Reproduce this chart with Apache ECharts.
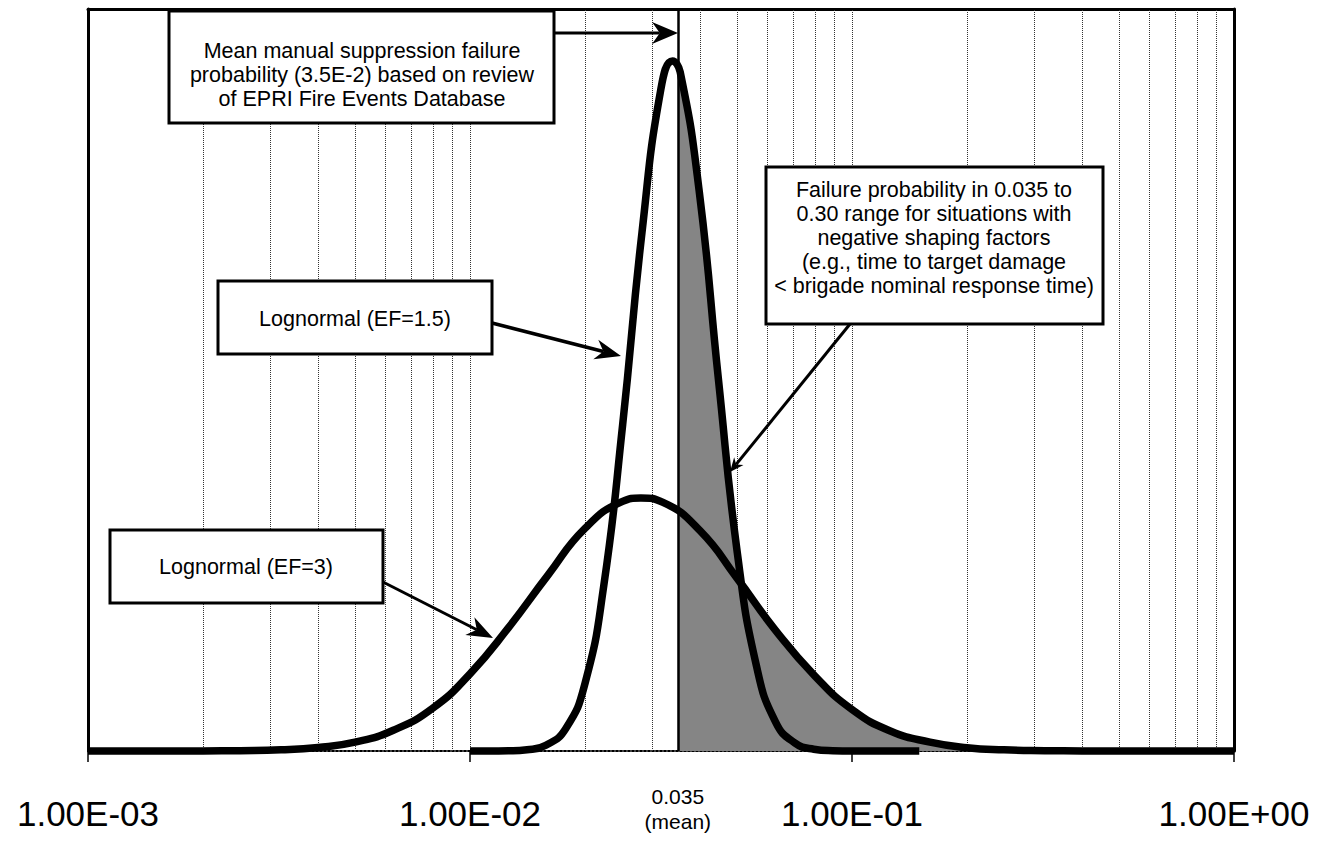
<!DOCTYPE html>
<html>
<head>
<meta charset="utf-8">
<title>Manual suppression failure probability</title>
<script src="https://cdn.jsdelivr.net/npm/echarts@6/dist/echarts.min.js"></script>
<style>
  html, body { margin: 0; padding: 0; background: #fff; }
  #chart { width: 1323px; height: 841px; }
</style>
</head>
<body>
<div id="chart"></div>
<script>
  // failure probability (log axis) and relative density
  const ef3X = [0.001, 0.0013, 0.0016, 0.002, 0.0025, 0.0032, 0.004, 0.005, 0.0063, 0.008,
    0.01, 0.0126, 0.016, 0.02, 0.025, 0.028, 0.032, 0.04, 0.05, 0.063, 0.08,
    0.1, 0.126, 0.16, 0.2, 0.25, 0.32, 0.4, 0.5, 0.63, 0.8, 1]
  const ef3Y = [0, 0, 0, 0.01, 0.05, 0.16, 0.48, 1.2, 2.8, 5.8,
    10.4, 16.6, 23.7, 30.0, 33.6, 34.1, 33.5, 29.7, 23.3, 16.3, 10.1,
    5.6, 2.7, 1.2, 0.45, 0.16, 0.05, 0.01, 0, 0, 0, 0]

  const ef15X = [0.01, 0.0112, 0.0126, 0.0141, 0.0158, 0.0178, 0.02, 0.0224, 0.0251, 0.0282,
    0.0316, 0.0339, 0.0355, 0.0398, 0.0447, 0.0501, 0.0562, 0.0631, 0.0708, 0.0794,
    0.0891, 0.1, 0.126, 0.15]
  const ef15Y = [0, 0, 0.03, 0.17, 0.78, 3.0, 9.1, 22.3, 44.0, 69.9,
    89.2, 93.0, 91.5, 75.5, 50.1, 26.7, 11.5, 3.9, 1.1, 0.24,
    0.04, 0, 0, 0]

  // shaded range 0.035 - 0.30 (upper edge of the grey area)
  const shadeX = [0.035, 0.0355, 0.0376, 0.0398, 0.0422, 0.0447, 0.0473, 0.0501, 0.0514, 0.0531,
    0.0562, 0.0596, 0.0631, 0.0708, 0.0794, 0.1, 0.126, 0.16, 0.2, 0.25, 0.30]
  const shadeY = [92.3, 91.5, 85.4, 75.5, 63.2, 50.1, 37.6, 26.7, 22.7, 21.6,
    19.8, 18.0, 16.3, 13.0, 10.1, 5.6, 2.7, 1.2, 0.45, 0.16, 0.07]

  const meanValue = 0.035
  const decades = [0.001, 0.01, 0.1, 1]
  const tickLabels = ['1.00E-03', '1.00E-02', '1.00E-01', '1.00E+00']
  const gridSteps = [2, 3, 4, 5, 6, 7, 8, 9]

  const font = "'Liberation Sans', Arial, Helvetica, sans-serif"

  function pairs(xs, ys) {
    return xs.map((x, i) => [x, ys[i]])
  }

  // dotted grid lines at 2..9 of every decade
  let gridLines = []
  decades.slice(0, 3).forEach((d, k) => {
    if (k > 0) gridLines.push({ xAxis: d })
    gridSteps.forEach(s => gridLines.push({ xAxis: +(d * s).toPrecision(3) }))
  })

  function arrow(x1, y1, x2, y2, w, head, half) {
    const a = Math.atan2(y2 - y1, x2 - x1)
    const c = Math.cos(a), s = Math.sin(a)
    const bx = x2 - head * c, by = y2 - head * s
    const nx = x2 - head * 0.7 * c, ny = y2 - head * 0.7 * s
    return [
      { type: 'line', z: 100, shape: { x1: x1, y1: y1, x2: nx, y2: ny }, style: { stroke: '#000', lineWidth: w } },
      { type: 'polygon', z: 100, shape: { points: [[x2, y2], [bx - half * s, by + half * c], [nx, ny], [bx + half * s, by - half * c]] },
        style: { fill: '#000' } }
    ]
  }

  const boxes = [
    { x: 169, y: 11, w: 385, h: 112, cx: 362, cy: 75, lh: 24,
      text: 'Mean manual suppression failure\nprobability (3.5E-2) based on review\nof EPRI Fire Events Database' },
    { x: 218, y: 281, w: 274, h: 73, cx: 355, cy: 319, lh: 24, text: 'Lognormal (EF=1.5)' },
    { x: 110, y: 530, w: 273, h: 73, cx: 246, cy: 567, lh: 24, text: 'Lognormal (EF=3)' },
    { x: 766, y: 167, w: 337, h: 157, cx: 934, cy: 238, lh: 23.8,
      text: 'Failure probability in 0.035 to\n0.30 range for situations with\nnegative shaping factors\n(e.g., time to target damage\n< brigade nominal response time)' }
  ]

  let graphics = []
  boxes.forEach(b => {
    graphics.push({ type: 'rect', z: 100, shape: { x: b.x, y: b.y, width: b.w, height: b.h },
      style: { fill: '#fff', stroke: '#000', lineWidth: 3 } })
    graphics.push({ type: 'text', z: 101, style: { text: b.text, x: b.cx, y: b.cy, align: 'center', verticalAlign: 'middle',
      textAlign: 'center', textVerticalAlign: 'middle', fontSize: 21.5, fontFamily: font, lineHeight: b.lh, fill: '#000' } })
  })
  graphics = graphics
    .concat(arrow(554, 33, 678, 33, 3, 26, 11))
    .concat(arrow(492, 323, 621, 356, 3.5, 26, 10))
    .concat(arrow(383, 582, 493, 638, 3, 26, 10))
    .concat(arrow(850, 324, 730, 472, 3, 14, 6))

  const chart = echarts.init(document.getElementById('chart'), null, { renderer: 'svg' })

  const option = {
    animation: false,
    backgroundColor: '#fff',
    grid: { left: 88, right: 89, top: 9, bottom: 90, containLabel: false },
    xAxis: [
      {
        type: 'log', logBase: 10, min: 0.001, max: 1, position: 'bottom',
        axisLine: { show: true, onZero: false, lineStyle: { color: '#000', width: 2, type: 'dotted' } },
        axisTick: { show: true, length: 11, lineStyle: { color: '#000', width: 1.5 } },
        axisLabel: {
          show: true, margin: 45, fontSize: 35, fontFamily: font, color: '#000',
          showMinLabel: true, showMaxLabel: true,
          formatter: v => tickLabels[Math.round(Math.log10(v)) + 3] || ''
        },
        splitLine: { show: false }
      },
      {
        type: 'log', logBase: 10, min: 0.001, max: 1, position: 'top',
        axisLine: { show: true, onZero: false, lineStyle: { color: '#000', width: 3 } },
        axisTick: { show: false }, axisLabel: { show: false }, splitLine: { show: false }
      }
    ],
    yAxis: [
      {
        type: 'value', min: 0, max: 100, position: 'left',
        axisLine: { show: true, onZero: false, lineStyle: { color: '#000', width: 3 } },
        axisTick: { show: false }, axisLabel: { show: false }, splitLine: { show: false }
      },
      {
        type: 'value', min: 0, max: 100, position: 'right',
        axisLine: { show: true, onZero: false, lineStyle: { color: '#000', width: 3 } },
        axisTick: { show: false }, axisLabel: { show: false }, splitLine: { show: false }
      }
    ],
    series: [
      {
        name: 'shade', type: 'line', z: 2, smooth: true, showSymbol: false, clip: false,
        data: pairs(shadeX, shadeY),
        lineStyle: { width: 0 },
        areaStyle: { color: '#858585', opacity: 1 },
        markLine: {
          silent: true, symbol: 'none', z: 1, animation: false, precision: 6,
          label: { show: false },
          lineStyle: { type: 'dotted', color: '#333', width: 1 },
          data: gridLines
        }
      },
      {
        name: 'Lognormal (EF=3)', type: 'line', z: 4, smooth: true, showSymbol: false, clip: false,
        data: pairs(ef3X, ef3Y),
        lineStyle: { color: '#000', width: 7.5 }
      },
      {
        name: 'Lognormal (EF=1.5)', type: 'line', z: 4, smooth: true, showSymbol: false, clip: false,
        data: pairs(ef15X, ef15Y),
        lineStyle: { color: '#000', width: 7.5 },
        markLine: {
          silent: true, symbol: 'none', z: 3, animation: false, precision: 6,
          lineStyle: { type: 'solid', color: '#000', width: 2.5 },
          label: {
            show: true, position: 'start', distance: 33, formatter: '0.035\n(mean)',
            fontSize: 21, lineHeight: 25, fontFamily: font, color: '#000'
          },
          data: [{ xAxis: meanValue }]
        }
      }
    ],
    graphic: graphics
  }

  chart.setOption(option)
</script>
</body>
</html>
